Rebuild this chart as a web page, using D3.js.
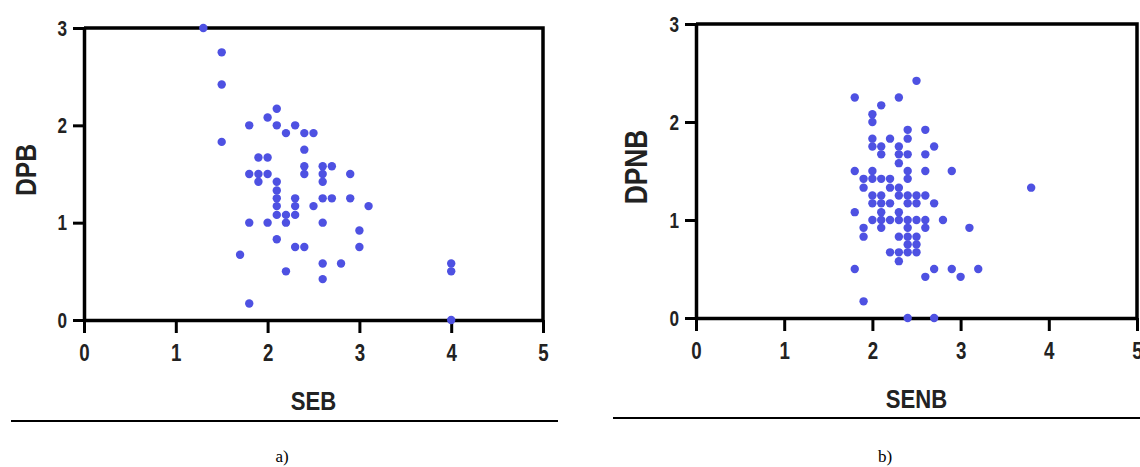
<!DOCTYPE html>
<html>
<head>
<meta charset="utf-8">
<script src="https://cdn.jsdelivr.net/npm/d3@7"></script>
<style>
    body { margin: 0; background: #fff; }
    svg { display: block; }
</style>
</head>
<body>
<svg id="chart" width="1140" height="467"></svg>
<script>
/********** Data **********/

var xTicks = [0, 1, 2, 3, 4, 5];
var yTicks = [0, 1, 2, 3];

// panel a) SEB vs DPB
var sebX = [1.3, 1.5, 1.5, 1.5, 1.8, 2.0, 2.1, 2.1, 2.2, 2.3, 2.4, 2.5, 2.4,
    1.9, 2.0, 1.8, 1.9, 2.0, 1.9, 2.1, 2.1, 2.1, 2.1, 2.1, 2.2, 2.3, 2.3, 2.3,
    2.4, 2.4, 2.6, 2.7, 2.6, 2.6, 2.9, 2.6, 2.7, 2.9, 2.5, 3.1, 1.8, 2.0, 2.2,
    2.6, 3.0, 2.1, 2.3, 2.4, 3.0, 1.7, 2.6, 2.8, 2.2, 2.6, 4.0, 4.0, 1.8, 4.0];
var dpbY = [3.0, 2.75, 2.42, 1.83, 2.0, 2.08, 2.17, 2.0, 1.92, 2.0, 1.92, 1.92, 1.75,
    1.67, 1.67, 1.5, 1.5, 1.5, 1.42, 1.42, 1.33, 1.25, 1.17, 1.08, 1.08, 1.25, 1.17, 1.08,
    1.58, 1.5, 1.58, 1.58, 1.5, 1.42, 1.5, 1.25, 1.25, 1.25, 1.17, 1.17, 1.0, 1.0, 1.0,
    1.0, 0.92, 0.83, 0.75, 0.75, 0.75, 0.67, 0.58, 0.58, 0.5, 0.42, 0.58, 0.5, 0.17, 0.0];

// panel b) SENB vs DPNB
var senbX = [2.5, 1.8, 2.3, 2.1, 2.0, 2.0, 2.4, 2.6, 2.4, 2.0, 2.2,
    2.0, 2.1, 2.3, 2.7, 2.1, 2.3, 2.4, 2.6, 2.3,
    1.8, 2.0, 2.4, 2.6, 2.9, 1.9, 2.0, 2.1, 2.2, 2.4,
    1.9, 2.2, 2.3, 3.8, 2.0, 2.1, 2.3, 2.4, 2.5, 2.6,
    2.0, 2.1, 2.2, 2.4, 2.5, 2.7, 1.8, 2.1, 2.3,
    2.0, 2.1, 2.2, 2.3, 2.4, 2.5, 2.6, 2.8,
    1.9, 2.1, 2.4, 2.6, 3.1, 1.9, 2.3, 2.4, 2.5, 2.4, 2.5,
    2.2, 2.3, 2.4, 2.5, 2.3, 1.8, 2.7, 2.9, 3.2, 2.6, 3.0, 1.9, 2.4, 2.7];
var dpnbY = [2.42, 2.25, 2.25, 2.17, 2.08, 2.0, 1.92, 1.92, 1.83, 1.83, 1.83,
    1.75, 1.75, 1.75, 1.75, 1.67, 1.67, 1.67, 1.67, 1.58,
    1.5, 1.5, 1.5, 1.5, 1.5, 1.42, 1.42, 1.42, 1.42, 1.42,
    1.33, 1.33, 1.33, 1.33, 1.25, 1.25, 1.25, 1.25, 1.25, 1.25,
    1.17, 1.17, 1.17, 1.17, 1.17, 1.17, 1.08, 1.08, 1.08,
    1.0, 1.0, 1.0, 1.0, 1.0, 1.0, 1.0, 1.0,
    0.92, 0.92, 0.92, 0.92, 0.92, 0.83, 0.83, 0.83, 0.83, 0.75, 0.75,
    0.67, 0.67, 0.67, 0.67, 0.58, 0.5, 0.5, 0.5, 0.5, 0.42, 0.42, 0.17, 0.0, 0.0];

var dotColor = "#4e51e2";
var fontSans = "'Liberation Sans', Arial, sans-serif";
var narrow = 0.78; // condensed look of the original lettering
var svg = d3.select("#chart");

/********** Panel **********/

function drawPanel(p) {
    var x = d3.scaleLinear().domain([0, 5]).range([p.left, p.right]);
    var y = d3.scaleLinear().domain([0, 3]).range([p.bottom, p.top]);
    var g = svg.append("g");

    // top + right border
    g.append("path")
        .attr("d", "M" + x(0) + "," + y(3) + "H" + x(5) + "V" + y(0))
        .attr("fill", "none").attr("stroke", "#000").attr("stroke-width", 3.5);

    var xAxis = g.append("g")
        .attr("transform", "translate(0," + y(0) + ")")
        .call(d3.axisBottom(x).tickValues(xTicks).tickFormat(d3.format("d"))
            .tickSize(13).tickSizeOuter(0).tickPadding(11));
    var yAxis = g.append("g")
        .attr("transform", "translate(" + x(0) + ",0)")
        .call(d3.axisLeft(y).tickValues(yTicks).tickFormat(d3.format("d"))
            .tickSize(11).tickSizeOuter(0).tickPadding(6));

    [xAxis, yAxis].forEach(function (a) {
        a.select(".domain").attr("stroke", "#000").attr("stroke-width", 3.5);
        a.selectAll(".tick line").attr("stroke", "#000").attr("stroke-width", 3);
        a.selectAll(".tick text")
            .attr("fill", "#222")
            .style("font-family", fontSans)
            .style("font-weight", "bold");
    });
    xAxis.selectAll(".tick text")
        .style("font-size", "24px")
        .attr("transform", "scale(" + narrow + ",1)");
    yAxis.selectAll(".tick text")
        .style("font-size", "22px")
        .attr("x", -17 / narrow)
        .attr("transform", "scale(" + narrow + ",1)");

    g.selectAll("circle")
        .data(p.xs)
        .enter().append("circle")
        .attr("cx", function (d) { return x(d); })
        .attr("cy", function (d, i) { return y(p.ys[i]); })
        .attr("r", 4.2)
        .attr("fill", dotColor);

    // axis titles
    g.append("text")
        .attr("transform", "translate(" + (x(0) + x(5)) / 2 + "," + p.xTitleY + ") scale(0.85,1)")
        .attr("text-anchor", "middle")
        .style("font-family", fontSans)
        .style("font-weight", "bold").style("font-size", "26px")
        .attr("fill", "#222")
        .text(p.xTitle);
    g.append("text")
        .attr("transform", "translate(" + p.yTitleX + "," + p.yTitleMid + ") rotate(-90) scale(0.85,1)")
        .attr("text-anchor", "middle")
        .style("font-family", fontSans)
        .style("font-weight", "bold").style("font-size", p.yTitleSize + "px")
        .attr("fill", "#222")
        .text(p.yTitle);

    // rule under the panel and its caption
    g.append("line")
        .attr("x1", p.ruleX1).attr("x2", p.ruleX2)
        .attr("y1", p.ruleY).attr("y2", p.ruleY)
        .attr("stroke", "#000").attr("stroke-width", 2);
    g.append("text")
        .attr("x", p.capX).attr("y", 462)
        .attr("text-anchor", "middle")
        .style("font-family", "'Liberation Serif', 'Times New Roman', serif")
        .style("font-size", "17px")
        .text(p.caption);
}

drawPanel({
    xs: sebX, ys: dpbY,
    left: 84, right: 543, top: 28, bottom: 320,
    xTitle: "SEB", xTitleY: 410,
    yTitle: "DPB", yTitleX: 36, yTitleMid: 170, yTitleSize: 29,
    ruleX1: 11, ruleX2: 558, ruleY: 421,
    capX: 282, caption: "a)"
});

drawPanel({
    xs: senbX, ys: dpnbY,
    left: 696, right: 1137, top: 24, bottom: 318,
    xTitle: "SENB", xTitleY: 408,
    yTitle: "DPNB", yTitleX: 647, yTitleMid: 167, yTitleSize: 31,
    ruleX1: 613, ruleX2: 1140, ruleY: 418,
    capX: 885, caption: "b)"
});
</script>
</body>
</html>
